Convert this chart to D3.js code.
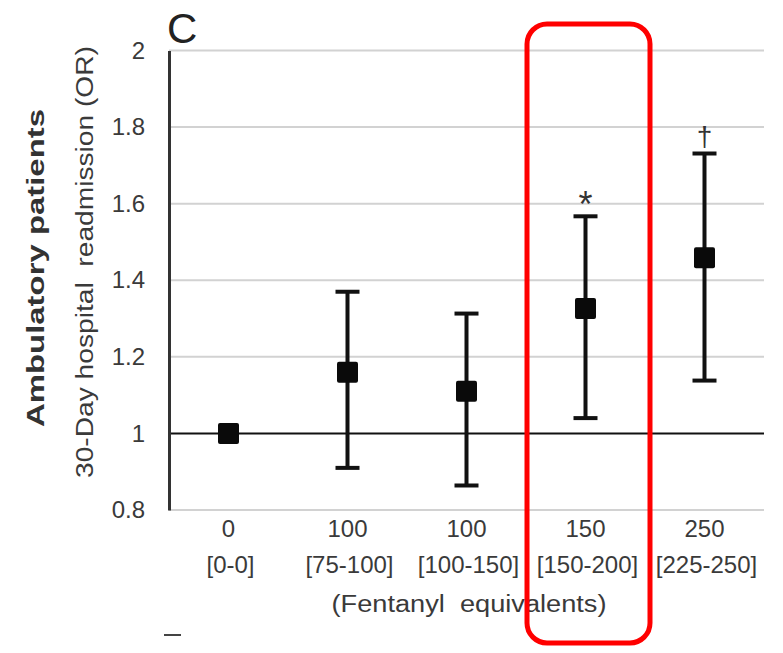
<!DOCTYPE html>
<html>
<head>
<meta charset="utf-8">
<script src="https://d3js.org/d3.v7.min.js"></script>
<style>
  body { margin: 0; background: #fff; }
  text { font-family: "Liberation Sans", Arial, sans-serif; }
</style>
</head>
<body>
<script>
var doses = ["0", "100", "100", "150", "250"];
var ranges = ["[0-0]", "[75-100]", "[100-150]", "[150-200]", "[225-250]"];
var oddsRatio = [1.0, 1.16, 1.11, 1.326, 1.459];
var lowerCI = [null, 0.91, 0.864, 1.04, 1.138];
var upperCI = [null, 1.37, 1.313, 1.567, 1.731];
var marks = ["", "", "", "*", "\u2020"];
var yTicks = [0.8, 1, 1.2, 1.4, 1.6, 1.8, 2];

var width = 783, height = 653;
var svg = d3.select("body").append("svg").attr("width", width).attr("height", height);

var x = d3.scaleBand().domain(d3.range(doses.length)).range([169, 764]);
var y = d3.scaleLinear().domain([0.8, 2]).range([510, 50.5]);

// grid
svg.selectAll(".grid").data(yTicks).enter().append("line")
  .attr("x1", 169).attr("x2", 764)
  .attr("y1", d => y(d)).attr("y2", d => y(d))
  .attr("stroke", d => d === 1 ? "#111" : "#d2d2d2")
  .attr("stroke-width", 2);

// y axis
var yAxis = d3.axisLeft(y).tickValues(yTicks).tickSize(0).tickPadding(24)
  .tickFormat(d => d3.format("")(d));
var yg = svg.append("g").attr("transform", "translate(169,0)").call(yAxis);
yg.select(".domain").attr("stroke", "#333").attr("stroke-width", 3);
yg.selectAll("text").attr("font-size", 24).attr("fill", "#3a3a3a")
  .attr("font-family", "Liberation Sans, Arial, sans-serif");

// x labels
var xg = svg.append("g");
xg.selectAll(".dose").data(doses).enter().append("text")
  .attr("x", (d, i) => x(i) + x.bandwidth() / 2).attr("y", 537)
  .attr("text-anchor", "middle").attr("font-size", 24).attr("fill", "#3a3a3a").text(d => d);
xg.selectAll(".rng").data(ranges).enter().append("text")
  .attr("x", (d, i) => x(i) + x.bandwidth() / 2 + 2).attr("y", 573)
  .attr("text-anchor", "middle").attr("font-size", 24).attr("fill", "#3a3a3a").text(d => d);
svg.append("text").attr("x", 469).attr("y", 612).attr("text-anchor", "middle")
  .attr("font-size", 23).attr("fill", "#3a3a3a")
  .style("white-space", "pre")
  .attr("textLength", 275).attr("lengthAdjust", "spacingAndGlyphs")
  .text("(Fentanyl  equivalents)");

// error bars
var pts = oddsRatio.map((v, i) => ({i: i, v: v, lo: lowerCI[i], hi: upperCI[i], m: marks[i]}));
var eb = pts.filter(d => d.lo !== null);
var cx = d => x(d.i) + x.bandwidth() / 2;
svg.selectAll(".eb").data(eb).enter().append("line")
  .attr("x1", cx).attr("x2", cx).attr("y1", d => y(d.lo)).attr("y2", d => y(d.hi))
  .attr("stroke", "#111").attr("stroke-width", 4);
svg.selectAll(".capHi").data(eb).enter().append("line")
  .attr("x1", d => cx(d) - 12).attr("x2", d => cx(d) + 12)
  .attr("y1", d => y(d.hi)).attr("y2", d => y(d.hi))
  .attr("stroke", "#111").attr("stroke-width", 4);
svg.selectAll(".capLo").data(eb).enter().append("line")
  .attr("x1", d => cx(d) - 12).attr("x2", d => cx(d) + 12)
  .attr("y1", d => y(d.lo)).attr("y2", d => y(d.lo))
  .attr("stroke", "#111").attr("stroke-width", 4);
svg.selectAll(".pt").data(pts).enter().append("rect")
  .attr("x", d => cx(d) - 10.5).attr("y", d => y(d.v) - 10.5)
  .attr("width", 21).attr("height", 21).attr("rx", 2).attr("fill", "#0a0a0a");
svg.selectAll(".mk").data(eb).enter().append("text")
  .attr("x", cx).attr("y", d => d.m === "*" ? y(d.hi) + 1 : y(d.hi) - 8)
  .attr("text-anchor", "middle").attr("font-size", d => d.m === "*" ? 36 : 28)
  .attr("fill", "#333").text(d => d.m);

// axis titles
svg.append("text").attr("transform", "translate(93,262) rotate(-90)")
  .attr("text-anchor", "middle").attr("font-size", 23).attr("fill", "#3a3a3a")
  .style("white-space", "pre")
  .attr("textLength", 432).attr("lengthAdjust", "spacingAndGlyphs")
  .text("30-Day hospital  readmission (OR)");
svg.append("text").attr("transform", "translate(44,268) rotate(-90)")
  .attr("text-anchor", "middle").attr("font-size", 24).attr("font-weight", "bold").attr("fill", "#333")
  .attr("textLength", 318).attr("lengthAdjust", "spacingAndGlyphs")
  .text("Ambulatory patients");

// panel letter
svg.append("text").attr("x", 167).attr("y", 43).attr("font-size", 42).attr("fill", "#222").text("C");

// stray mark bottom-left
svg.append("line").attr("x1", 164).attr("x2", 181).attr("y1", 635).attr("y2", 635)
  .attr("stroke", "#444").attr("stroke-width", 2);

// red highlight
svg.append("rect").attr("x", 527).attr("y", 24).attr("width", 123).attr("height", 619)
  .attr("rx", 20).attr("fill", "none").attr("stroke", "#f00").attr("stroke-width", 5);
</script>
</body>
</html>
